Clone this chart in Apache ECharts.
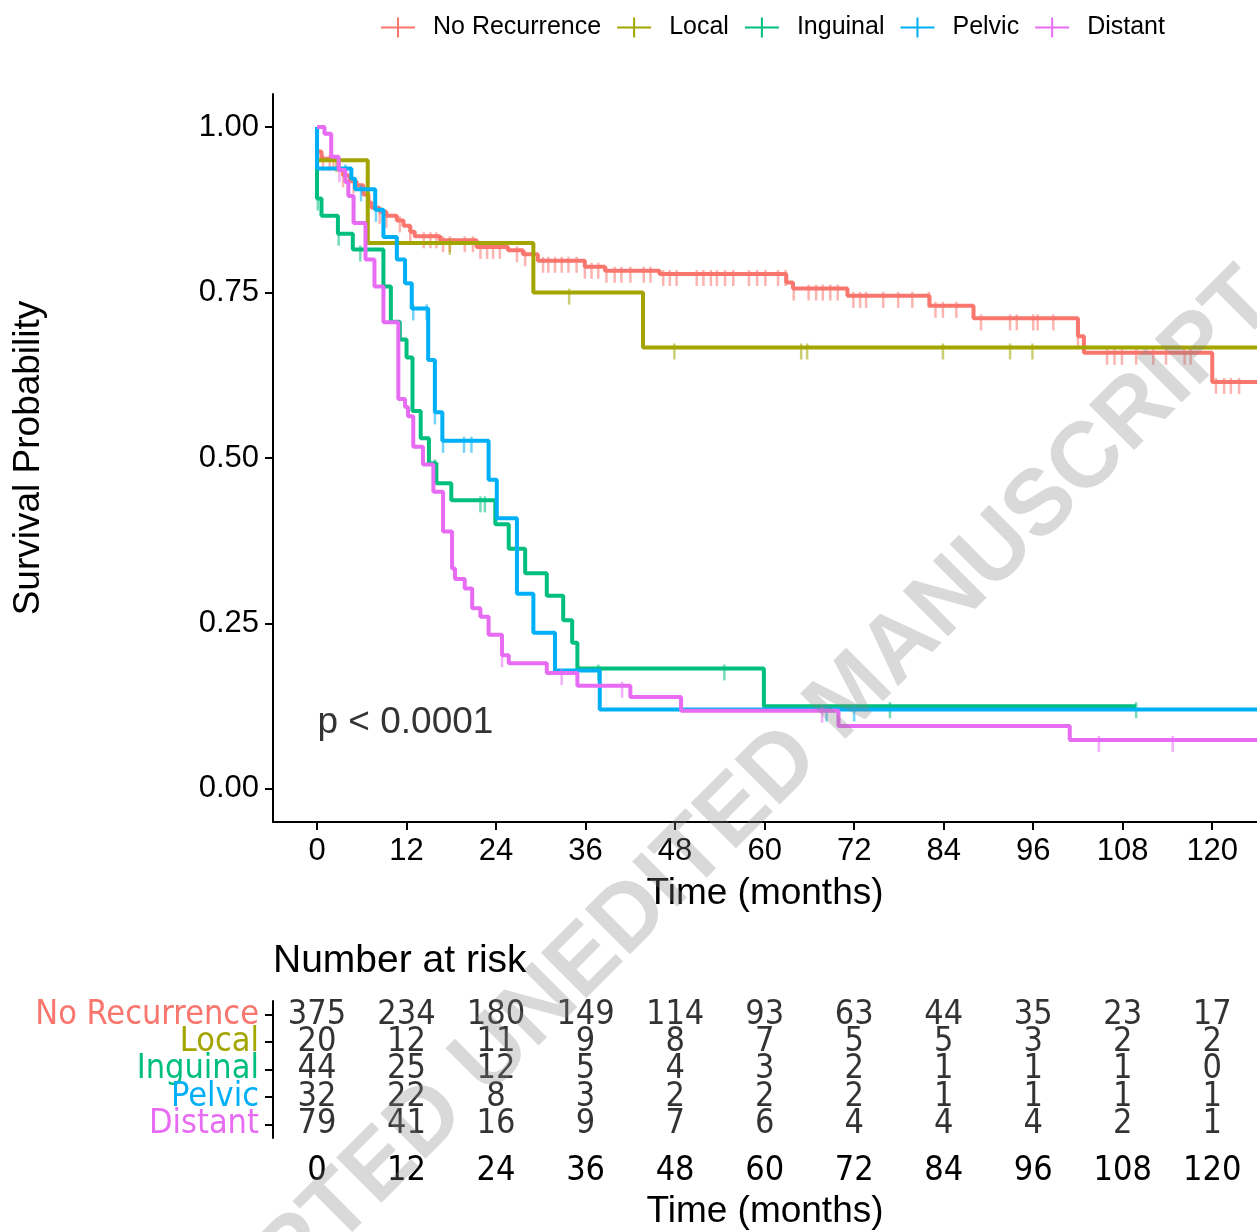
<!DOCTYPE html>
<html>
<head>
<meta charset="utf-8">
<script src="https://cdn.jsdelivr.net/npm/echarts@6/dist/echarts.min.js"></script>
<style>
html, body { margin: 0; padding: 0; background: #fff; }
#main { width: 1257px; height: 1232px; }
</style>
</head>
<body>
<div id="main"></div>
<script>
// groups and colours (ggplot hue palette)
var groups = ['No Recurrence', 'Local', 'Inguinal', 'Pelvic', 'Distant'];
var colors = ['#F8766D', '#A3A500', '#00BF7D', '#00B0F6', '#E76BF3'];

// Kaplan-Meier steps: [month, survival after the drop]
var noRecSteps = [[0, 1], [0, 0.963], [0.6, 0.952], [2.9, 0.935], [3.5, 0.927], [4.4, 0.918], [5.3, 0.912],
  [6.2, 0.898], [6.9, 0.886], [7.3, 0.878], [8.4, 0.872], [9.3, 0.866], [10.7, 0.859], [11.6, 0.851],
  [12.5, 0.842], [13.1, 0.835], [16.5, 0.829], [21.4, 0.819], [25.6, 0.814], [27.6, 0.808], [29.6, 0.798],
  [35.9, 0.789], [38.6, 0.783], [45.9, 0.778], [62.9, 0.765], [63.8, 0.756], [71.1, 0.745], [82.1, 0.730],
  [88.0, 0.711], [102.0, 0.684], [102.8, 0.659], [120.0, 0.615], [126, 0.615]];
var localSteps = [[0, 1], [0, 0.95], [6.8, 0.825], [29.0, 0.75], [43.7, 0.667], [126, 0.667]];
var inguinalSteps = [[0, 1], [0, 0.892], [0.6, 0.866], [2.8, 0.839], [4.8, 0.815], [8.9, 0.759], [9.9, 0.706],
  [11.1, 0.679], [12.0, 0.652], [12.8, 0.571], [13.9, 0.53], [15.0, 0.492], [16.0, 0.462], [18.0, 0.436],
  [23.9, 0.40], [25.7, 0.363], [27.9, 0.326], [30.8, 0.292], [33.0, 0.255], [34.2, 0.221], [34.9, 0.182],
  [59.9, 0.125], [109.8, 0.125]];
var pelvicSteps = [[0, 1], [0, 0.9375], [4.6, 0.922], [5.1, 0.906], [7.8, 0.875], [8.9, 0.834], [10.7, 0.80],
  [11.8, 0.764], [12.7, 0.726], [14.9, 0.648], [15.8, 0.569], [16.8, 0.526], [23.0, 0.467], [24.1, 0.409],
  [26.8, 0.295], [29.0, 0.236], [31.9, 0.179], [37.9, 0.12], [126, 0.12]];
var distantSteps = [[0, 1], [1.0, 0.99], [1.9, 0.955], [2.9, 0.935], [3.8, 0.917], [4.2, 0.896], [4.9, 0.855],
  [6.5, 0.80], [7.7, 0.759], [8.9, 0.705], [10.9, 0.589], [11.8, 0.577], [12.2, 0.563], [12.9, 0.517],
  [14.2, 0.49], [15.6, 0.449], [16.9, 0.389], [18.1, 0.333], [18.5, 0.317], [19.8, 0.303], [20.8, 0.273],
  [21.9, 0.26], [23.0, 0.233], [24.8, 0.202], [25.7, 0.19], [30.8, 0.175], [34.9, 0.156], [42.0, 0.139],
  [48.8, 0.118], [69.9, 0.095], [100.9, 0.074], [126, 0.074]];

// censoring times (months)
var noRecCensor = [0.8, 1.7, 2.2, 3.5, 4.9, 8.4, 9.3, 11.1, 12.5, 14.3, 15.2, 16.0, 16.9, 17.8, 19.8, 20.9,
  21.9, 22.8, 23.6, 24.5, 26.8, 27.9, 30.3, 31.0, 31.9, 32.8, 33.7, 34.8, 35.9, 36.8, 37.7, 38.8, 39.9, 40.8,
  42.0, 43.8, 44.7, 46.4, 47.3, 48.2, 50.9, 51.8, 52.8, 53.6, 54.7, 55.8, 57.9, 59.0, 60.1, 61.8, 62.8, 63.9,
  65.9, 66.9, 67.8, 68.8, 69.8, 71.9, 72.8, 73.6, 75.9, 77.9, 79.8, 82.0, 82.9, 83.9, 85.7, 89.0, 92.9, 93.8,
  96.0, 96.6, 98.7, 102.0, 105.9, 106.9, 107.9, 109.8, 112.1, 113.8, 116.3, 117.1, 120.5, 121.6, 122.5, 123.6];
var localCensor = [2.6, 17.8, 33.8, 47.9, 64.9, 65.7, 83.9, 92.9, 95.9];
var inguinalCensor = [0.1, 2.9, 5.8, 15.8, 21.9, 22.5, 37.7, 54.6, 76.8, 109.8];
var pelvicCensor = [3.8, 5.9, 7.9, 12.9, 14.7, 15.8, 16.9, 19.7, 20.7, 68.3, 72.0];
var distantCensor = [3.0, 24.8, 32.8, 40.9, 67.7, 104.8, 114.7];

// number at risk table
var riskTimes = [0, 12, 24, 36, 48, 60, 72, 84, 96, 108, 120];
var riskNoRec = [375, 234, 180, 149, 114, 93, 63, 44, 35, 23, 17];
var riskLocal = [20, 12, 11, 9, 8, 7, 5, 5, 3, 2, 2];
var riskInguinal = [44, 25, 12, 5, 4, 3, 2, 1, 1, 1, 0];
var riskPelvic = [32, 22, 8, 3, 2, 2, 2, 1, 1, 1, 1];
var riskDistant = [79, 41, 16, 9, 7, 6, 4, 4, 4, 2, 1];

var survTicks = [0, 0.25, 0.5, 0.75, 1];

var stepData = [noRecSteps, localSteps, inguinalSteps, pelvicSteps, distantSteps];
var censorData = [noRecCensor, localCensor, inguinalCensor, pelvicCensor, distantCensor];
var riskData = [riskNoRec, riskLocal, riskInguinal, riskPelvic, riskDistant];

function survAt(steps, t) {
  var s = steps[0][1];
  for (var i = 0; i < steps.length; i++) {
    if (steps[i][0] <= t) s = steps[i][1];
  }
  return s;
}

var sansFont = 'Liberation Sans, Arial, sans-serif';
var narrowFont = 'Liberation Sans Narrow, DejaVu Sans Condensed, Liberation Sans, sans-serif';

var series = [];
stepData.forEach(function (steps, g) {
  series.push({
    name: groups[g],
    type: 'line',
    xAxisIndex: 0,
    yAxisIndex: 0,
    step: 'end',
    data: steps,
    showSymbol: false,
    symbol: 'none',
    lineStyle: { width: 4, color: colors[g] },
    itemStyle: { color: colors[g] },
    z: 3 + g
  });
});
censorData.forEach(function (times, g) {
  series.push({
    name: groups[g],
    type: 'scatter',
    xAxisIndex: 0,
    yAxisIndex: 0,
    data: times.map(function (t) { return [t, survAt(stepData[g], t)]; }),
    symbol: 'rect',
    symbolSize: [2.5, 16],
    symbolOffset: [0, 4],
    itemStyle: { color: colors[g], opacity: 0.55 },
    silent: true,
    z: 3 + g
  });
});

// p-value note
series.push({
  type: 'scatter',
  xAxisIndex: 0,
  yAxisIndex: 0,
  data: [[0, 0.1]],
  symbolSize: 1,
  itemStyle: { color: 'rgba(0,0,0,0)' },
  label: {
    show: true,
    position: 'right',
    distance: 0,
    formatter: 'p < 0.0001',
    color: '#000',
    fontSize: 37,
    fontFamily: sansFont
  },
  silent: true
});

// risk table cells
riskData.forEach(function (vals, g) {
  series.push({
    type: 'scatter',
    xAxisIndex: 1,
    yAxisIndex: 1,
    data: riskTimes.map(function (t, i) { return [t, groups[g], vals[i]]; }),
    symbolSize: 1,
    itemStyle: { color: 'rgba(0,0,0,0)' },
    label: {
      show: true,
      position: 'inside',
      formatter: function (p) { return String(p.value[2]); },
      color: '#000',
      fontSize: 34,
      fontFamily: narrowFont
    },
    silent: true
  });
});

var rich = {};
groups.forEach(function (name, g) {
  rich['g' + g] = { color: colors[g], fontSize: 34, fontFamily: narrowFont };
});

var axisBlack = { color: '#000', width: 2 };

var option = {
  backgroundColor: '#fff',
  animation: false,
  title: {
    text: 'Number at risk',
    left: 273,
    top: 942,
    padding: 0,
    textStyle: { fontSize: 39, fontWeight: 'normal', color: '#000', fontFamily: sansFont }
  },
  legend: {
    left: 376,
    top: 10,
    itemWidth: 34,
    itemHeight: 20,
    itemGap: 16,
    data: groups.map(function (name) {
      return { name: name, icon: 'path://M0,9H34V11H0Z M16,0H18V20H16Z' };
    }),
    textStyle: { fontSize: 25, color: '#000', fontFamily: sansFont, padding: [0, 0, 0, 13] }
  },
  grid: [
    { left: 273, top: 94, width: 984, height: 728 },
    { left: 273, top: 1001, width: 984, height: 137 }
  ],
  xAxis: [{
    type: 'value',
    gridIndex: 0,
    min: -5.9,
    max: 126,
    axisLine: { onZero: false, lineStyle: axisBlack },
    axisTick: { customValues: riskTimes, length: 8, lineStyle: axisBlack },
    axisLabel: { customValues: riskTimes, fontSize: 31, color: '#000', margin: 14, fontFamily: sansFont },
    splitLine: { show: false },
    name: 'Time (months)',
    nameLocation: 'middle',
    nameGap: 53,
    nameTextStyle: { fontSize: 37, color: '#000', fontFamily: sansFont }
  }, {
    type: 'value',
    gridIndex: 1,
    min: -5.9,
    max: 126,
    axisLine: { onZero: false, lineStyle: axisBlack },
    axisTick: { customValues: riskTimes, length: 8, lineStyle: axisBlack },
    axisLabel: { customValues: riskTimes, fontSize: 34, color: '#000', margin: 16, fontFamily: narrowFont },
    splitLine: { show: false },
    name: 'Time (months)',
    nameLocation: 'middle',
    nameGap: 55,
    nameTextStyle: { fontSize: 37, color: '#000', fontFamily: sansFont }
  }],
  yAxis: [{
    type: 'value',
    gridIndex: 0,
    min: -0.05,
    max: 1.05,
    axisLine: { show: true, onZero: false, lineStyle: axisBlack },
    axisTick: { show: true, customValues: survTicks, length: 8, lineStyle: axisBlack },
    axisLabel: {
      customValues: survTicks,
      fontSize: 31,
      color: '#000',
      margin: 14,
      fontFamily: sansFont,
      formatter: function (v) { return Number(v).toFixed(2); }
    },
    splitLine: { show: false },
    name: 'Survival Probability',
    nameLocation: 'middle',
    nameRotate: 90,
    nameGap: 226,
    nameTextStyle: { fontSize: 37, color: '#000', fontFamily: sansFont }
  }, {
    type: 'category',
    gridIndex: 1,
    data: groups,
    inverse: true,
    axisLine: { show: true, onZero: false, lineStyle: axisBlack },
    axisTick: { show: true, alignWithLabel: true, length: 8, lineStyle: axisBlack },
    axisLabel: {
      interval: 0,
      margin: 14,
      formatter: function (v, i) { return '{g' + i + '|' + v + '}'; },
      rich: rich
    },
    splitLine: { show: false }
  }],
  graphic: [{
    type: 'text',
    x: 675,
    y: 873,
    rotation: Math.PI / 4,
    z: 100,
    silent: true,
    style: {
      text: 'ACCEPTED UNEDITED MANUSCRIPT',
      font: 'bold 93px Liberation Sans, Arial, sans-serif',
      fill: 'rgba(128,128,128,0.3)',
      align: 'center',
      verticalAlign: 'middle'
    }
  }],
  series: series
};

var chart = echarts.init(document.getElementById('main'));
chart.setOption(option);
</script>
</body>
</html>
